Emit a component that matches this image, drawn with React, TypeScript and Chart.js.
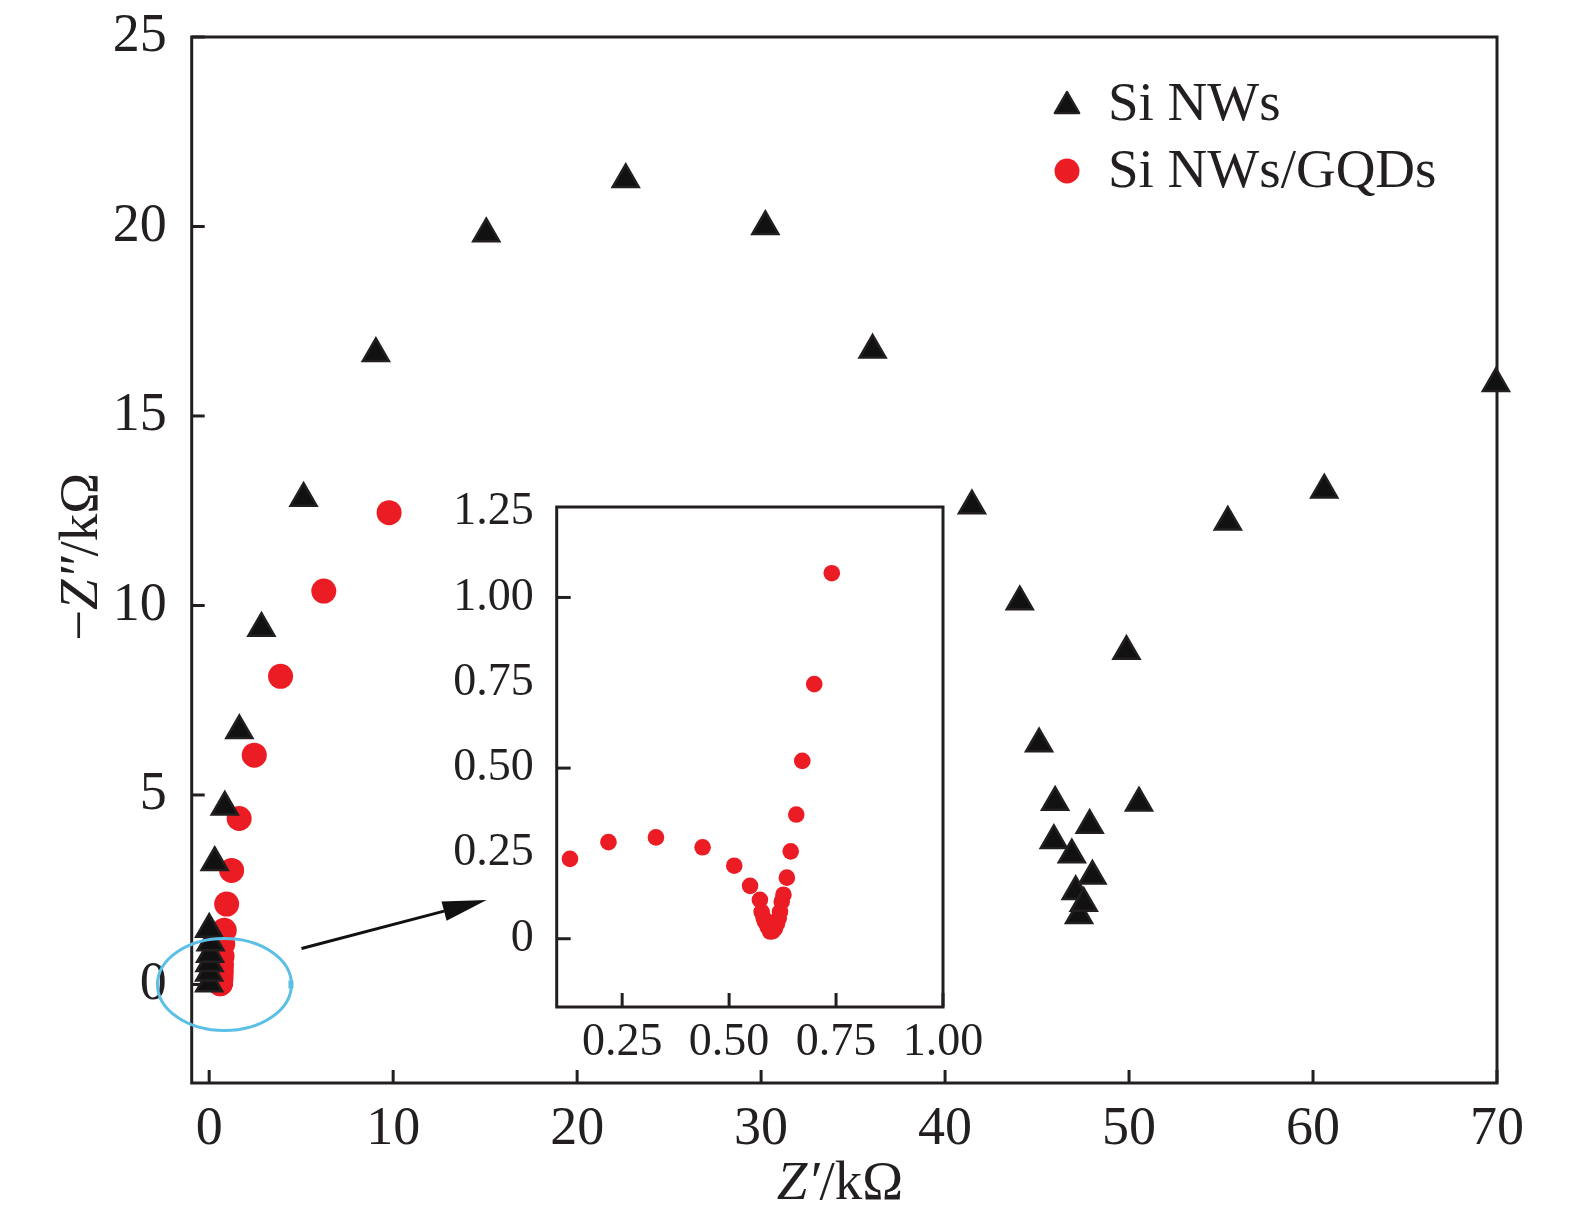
import React, { useEffect, useRef } from 'react';
import { Chart, registerables } from 'chart.js';

Chart.register(...registerables);

const FONT = '"Liberation Serif", "Times New Roman", serif';
const INK = '#231f20';
const RED = '#ec1c24';
const CYAN = '#5cc0e6';

// ---- data ----
const seriesNames = ['Si NWs', 'Si NWs/GQDs'];

// Si NWs (Z' / kΩ, -Z'' / kΩ)
const siX = [0.0, 0.0, 0.02, 0.05, 0.08, 0.0, 0.3, 0.85, 1.64, 2.84, 5.13, 9.06, 15.06, 22.64, 30.23, 36.06, 41.46, 44.06, 45.11, 45.98, 45.91, 46.89, 47.1, 47.28, 47.54, 48.01, 47.86, 49.86, 50.54, 55.37, 60.61, 69.94];
const siY = [0.02, 0.3, 0.55, 0.8, 1.1, 1.46, 3.22, 4.68, 6.7, 9.4, 12.83, 16.65, 19.81, 21.24, 20.0, 16.74, 12.63, 10.1, 6.35, 4.81, 3.8, 3.42, 2.45, 1.82, 2.14, 2.86, 4.2, 8.79, 4.79, 12.2, 13.05, 15.86];

// Si NWs/GQDs: low-impedance part (also shown in the inset)
const gqdLowX = [0.128, 0.218, 0.329, 0.438, 0.512, 0.549, 0.572, 0.576, 0.581, 0.584, 0.59, 0.596, 0.602, 0.607, 0.612, 0.616, 0.619, 0.623, 0.627, 0.635, 0.644, 0.657, 0.671, 0.699, 0.74];
const gqdLowY = [0.234, 0.283, 0.297, 0.268, 0.214, 0.155, 0.114, 0.079, 0.06, 0.05, 0.035, 0.021, 0.022, 0.03, 0.045, 0.06, 0.079, 0.109, 0.129, 0.179, 0.256, 0.364, 0.521, 0.746, 1.071];
// Si NWs/GQDs: high-impedance part
const gqdHighX = [0.82, 0.95, 1.22, 1.63, 2.45, 3.88, 6.23, 9.78];
const gqdHighY = [1.43, 2.12, 3.01, 4.38, 6.05, 8.13, 10.38, 12.45];

// ticks
const mainXTicks = [0, 10, 20, 30, 40, 50, 60, 70];
const mainYTicks = [0, 5, 10, 15, 20, 25];
const insetXTicks = [0.25, 0.5, 0.75, 1.0];
const insetXLabels = ['0.25', '0.50', '0.75', '1.00'];
const insetYTicks = [0, 0.25, 0.5, 0.75, 1.0, 1.25];
const insetYLabels = ['0', '0.25', '0.50', '0.75', '1.00', '1.25'];
const insetYMarks = [0, 0.5, 1.0];

const toPts = (xs: number[], ys: number[]) => xs.map((x, i) => ({ x, y: ys[i] }));

function drawRich(ctx: CanvasRenderingContext2D, parts: { t: string; it?: boolean }[], size: number, cx: number, by: number) {
  const fontOf = (it?: boolean) => `${it ? 'italic ' : ''}${size}px ${FONT}`;
  let total = 0;
  const widths = parts.map((p) => {
    ctx.font = fontOf(p.it);
    const w = ctx.measureText(p.t).width;
    total += w;
    return w;
  });
  let x = cx - total / 2;
  ctx.textBaseline = 'alphabetic';
  ctx.textAlign = 'left';
  parts.forEach((p, i) => {
    ctx.font = fontOf(p.it);
    ctx.fillText(p.t, x, by);
    x += widths[i];
  });
}

function triangle(ctx: CanvasRenderingContext2D, x: number, y: number, r: number) {
  ctx.beginPath();
  for (let k = 0; k < 3; k++) {
    const a = (k * 2 * Math.PI) / 3;
    const px = x + Math.sin(a) * r;
    const py = y - Math.cos(a) * r;
    if (k === 0) ctx.moveTo(px, py);
    else ctx.lineTo(px, py);
  }
  ctx.closePath();
}

const framePlugin = {
  id: 'frame',
  beforeDatasetsDraw(chart: any, _args: any, opts: any) {
    const { ctx, chartArea: a, scales } = chart;
    const x = scales.x;
    const y = scales.y;
    ctx.save();
    ctx.strokeStyle = INK;
    ctx.lineWidth = 3;
    ctx.lineCap = 'square';
    ctx.strokeRect(a.left, a.top, a.right - a.left, a.bottom - a.top);
    ctx.lineCap = 'butt';
    const len = opts.len || 13;
    for (const v of opts.xMarks) {
      const px = x.getPixelForValue(v);
      ctx.beginPath();
      ctx.moveTo(px, a.bottom);
      ctx.lineTo(px, a.bottom - len);
      ctx.stroke();
    }
    for (const v of opts.yMarks) {
      const py = y.getPixelForValue(v);
      ctx.beginPath();
      ctx.moveTo(a.left, py);
      ctx.lineTo(a.left + len, py);
      ctx.stroke();
    }
    ctx.restore();
  },
};

const extrasPlugin = {
  id: 'extras',
  afterDraw(chart: any) {
    const { ctx, scales } = chart;
    const x = scales.x;
    const y = scales.y;
    ctx.save();
    // ellipse marking the zoomed region
    const ex = x.getPixelForValue(0.83);
    const ey = y.getPixelForValue(0.0);
    ctx.strokeStyle = CYAN;
    ctx.lineWidth = 3;
    ctx.beginPath();
    ctx.ellipse(ex, ey, 67, 46, 0, 0, Math.PI * 2);
    ctx.stroke();
    ctx.fillStyle = CYAN;
    ctx.fillRect(ex + 64, ey - 4, 5, 8);

    // arrow
    const ax0 = x.getPixelForValue(5.02);
    const ay0 = y.getPixelForValue(0.95);
    const ax1 = x.getPixelForValue(15.08);
    const ay1 = y.getPixelForValue(2.23);
    const ang = Math.atan2(ay1 - ay0, ax1 - ax0);
    const hl = 44;
    const hw = 10;
    const bx = ax1 - Math.cos(ang) * hl;
    const by = ay1 - Math.sin(ang) * hl;
    ctx.strokeStyle = '#111';
    ctx.lineWidth = 3;
    ctx.beginPath();
    ctx.moveTo(ax0, ay0);
    ctx.lineTo(bx, by);
    ctx.stroke();
    ctx.fillStyle = '#111';
    ctx.beginPath();
    ctx.moveTo(ax1, ay1);
    ctx.lineTo(bx - Math.sin(ang) * hw, by + Math.cos(ang) * hw);
    ctx.lineTo(bx + Math.sin(ang) * hw, by - Math.cos(ang) * hw);
    ctx.closePath();
    ctx.fill();

    // legend
    ctx.fillStyle = '#111';
    ctx.strokeStyle = INK;
    ctx.lineWidth = 2.5;
    ctx.lineJoin = 'round';
    triangle(ctx, 1067, 106, 14);
    ctx.fill();
    ctx.stroke();
    ctx.fillStyle = RED;
    ctx.beginPath();
    ctx.arc(1067, 171, 12.5, 0, Math.PI * 2);
    ctx.fill();
    ctx.fillStyle = INK;
    ctx.font = `55px ${FONT}`;
    ctx.textAlign = 'left';
    ctx.textBaseline = 'alphabetic';
    ctx.fillText(seriesNames[0], 1108, 120);
    ctx.fillText(seriesNames[1], 1108, 187);

    // axis titles
    drawRich(ctx, [{ t: 'Z', it: true }, { t: '\u2032', it: true }, { t: '/k\u03A9' }], 55, 840, 1199);
    ctx.save();
    ctx.translate(97, 557);
    ctx.rotate(-Math.PI / 2);
    drawRich(ctx, [{ t: '\u2212' }, { t: 'Z', it: true }, { t: '\u2033', it: true }, { t: '/k\u03A9' }], 55, 0, 0);
    ctx.restore();
    ctx.restore();
  },
};

const noPadX = (h: number) => (s: any) => {
  s.height = h;
  s.paddingLeft = 0;
  s.paddingRight = 0;
  s.paddingTop = 0;
  s.paddingBottom = 0;
};
const noPadY = (w: number) => (s: any) => {
  s.width = w;
  s.paddingLeft = 0;
  s.paddingRight = 0;
  s.paddingTop = 0;
  s.paddingBottom = 0;
};

export default function App() {
  const mainRef = useRef<HTMLCanvasElement>(null);
  const insetRef = useRef<HTMLCanvasElement>(null);

  useEffect(() => {
    const gqdAll = toPts(gqdLowX, gqdLowY).concat(toPts(gqdHighX, gqdHighY));
    const main = new Chart(mainRef.current as HTMLCanvasElement, {
      type: 'scatter',
      data: {
        datasets: [
          {
            label: seriesNames[0],
            data: toPts(siX, siY),
            pointStyle: 'triangle',
            pointRadius: 15,
            backgroundColor: '#111111',
            borderColor: INK,
            borderWidth: 2.5,
            clip: false as any,
          },
          {
            label: seriesNames[1],
            data: gqdAll,
            pointStyle: 'circle',
            pointRadius: 12.5,
            backgroundColor: RED,
            borderColor: RED,
            borderWidth: 0,
            clip: false as any,
          },
        ],
      },
      options: {
        animation: false,
        responsive: false,
        events: [],
        layout: { padding: { left: 0, top: 37, right: 78, bottom: 0 } },
        plugins: {
          legend: { display: false },
          tooltip: { enabled: false },
          frame: { xMarks: mainXTicks, yMarks: mainYTicks, len: 13 },
        } as any,
        scales: {
          x: {
            type: 'linear',
            min: -0.95,
            max: 70,
            afterBuildTicks: (s: any) => {
              s.ticks = mainXTicks.map((v) => ({ value: v }));
            },
            afterFit: noPadX(145),
            grid: { display: false, drawTicks: false },
            border: { display: false },
            ticks: {
              font: { family: FONT, size: 54 },
              color: INK,
              padding: 14,
              maxRotation: 0,
              autoSkip: false,
              callback: (v: any) => String(v),
            },
          },
          y: {
            type: 'linear',
            min: -2.6,
            max: 25,
            afterBuildTicks: (s: any) => {
              s.ticks = mainYTicks.map((v) => ({ value: v }));
            },
            afterFit: noPadY(191.7),
            grid: { display: false, drawTicks: false },
            border: { display: false },
            ticks: {
              font: { family: FONT, size: 54 },
              color: INK,
              padding: 25,
              autoSkip: false,
              callback: (v: any) => String(v),
            },
          },
        },
      },
      plugins: [framePlugin, extrasPlugin],
    });

    const inset = new Chart(insetRef.current as HTMLCanvasElement, {
      type: 'scatter',
      data: {
        datasets: [
          {
            label: seriesNames[1],
            data: toPts(gqdLowX, gqdLowY),
            pointStyle: 'circle',
            pointRadius: 8.3,
            backgroundColor: RED,
            borderColor: RED,
            borderWidth: 0,
          },
        ],
      },
      options: {
        animation: false,
        responsive: false,
        events: [],
        layout: { padding: { left: 0, top: 37, right: 77, bottom: 0 } },
        plugins: {
          legend: { display: false },
          tooltip: { enabled: false },
          frame: { xMarks: insetXTicks, yMarks: insetYMarks, len: 14 },
        } as any,
        scales: {
          x: {
            type: 'linear',
            min: 0.097,
            max: 1.0,
            afterBuildTicks: (s: any) => {
              s.ticks = insetXTicks.map((v) => ({ value: v }));
            },
            afterFit: noPadX(83),
            grid: { display: false, drawTicks: false },
            border: { display: false },
            ticks: {
              font: { family: FONT, size: 46 },
              color: INK,
              padding: 8,
              maxRotation: 0,
              autoSkip: false,
              callback: (_v: any, i: number) => insetXLabels[i],
            },
          },
          y: {
            type: 'linear',
            min: -0.2,
            max: 1.265,
            afterBuildTicks: (s: any) => {
              s.ticks = insetYTicks.map((v) => ({ value: v }));
            },
            afterFit: noPadY(136.7),
            grid: { display: false, drawTicks: false },
            border: { display: false },
            ticks: {
              font: { family: FONT, size: 46 },
              color: INK,
              padding: 23,
              autoSkip: false,
              callback: (_v: any, i: number) => insetYLabels[i],
            },
          },
        },
      },
      plugins: [framePlugin],
    });

    return () => {
      main.destroy();
      inset.destroy();
    };
  }, []);

  return (
    <div style={{ position: 'fixed', left: 0, top: 0, width: 1575, height: 1228, background: '#ffffff' }}>
      <canvas
        ref={mainRef}
        width={1575}
        height={1228}
        style={{ position: 'absolute', left: 0, top: 0, width: 1575, height: 1228 }}
      />
      <canvas
        ref={insetRef}
        width={600}
        height={620}
        style={{ position: 'absolute', left: 420, top: 470, width: 600, height: 620 }}
      />
    </div>
  );
}
